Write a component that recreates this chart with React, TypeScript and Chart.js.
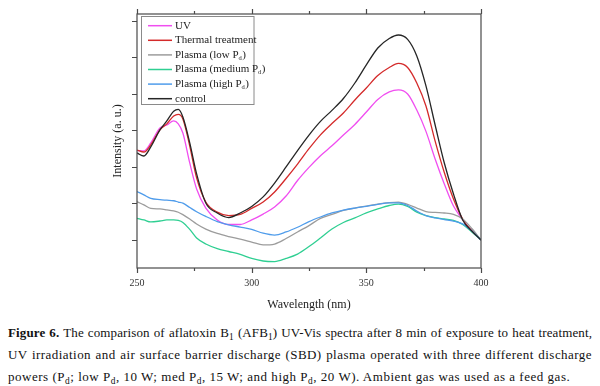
import React, { useEffect, useRef } from "react";
import { Chart, registerables } from "chart.js";

Chart.register(...registerables);

// Wavelength grid (nm)
const wavelengths = [250, 253, 256, 260, 263, 266, 268, 270, 273, 276, 280, 285, 290, 295, 300, 305, 310, 315, 320, 325, 330, 335, 340, 345, 350, 355, 360, 364, 368, 372, 376, 380, 384, 388, 392, 396, 400];

// Intensities (a. u.)
const uv = [0.690, 0.688, 0.732, 0.814, 0.830, 0.852, 0.836, 0.786, 0.622, 0.479, 0.375, 0.310, 0.285, 0.285, 0.310, 0.342, 0.381, 0.441, 0.526, 0.598, 0.662, 0.716, 0.775, 0.833, 0.901, 0.970, 1.011, 1.022, 1.000, 0.912, 0.795, 0.644, 0.507, 0.386, 0.312, 0.249, 0.200];
const thermal = [0.693, 0.682, 0.721, 0.803, 0.836, 0.879, 0.888, 0.863, 0.715, 0.540, 0.408, 0.353, 0.334, 0.340, 0.373, 0.408, 0.463, 0.537, 0.616, 0.700, 0.776, 0.838, 0.896, 0.967, 1.033, 1.101, 1.145, 1.167, 1.145, 1.060, 0.934, 0.742, 0.570, 0.425, 0.315, 0.249, 0.200];
const plasmaLow = [0.410, 0.392, 0.373, 0.370, 0.365, 0.359, 0.352, 0.339, 0.315, 0.288, 0.260, 0.236, 0.219, 0.205, 0.189, 0.173, 0.178, 0.208, 0.244, 0.279, 0.318, 0.340, 0.362, 0.375, 0.386, 0.397, 0.405, 0.408, 0.395, 0.375, 0.356, 0.351, 0.348, 0.340, 0.315, 0.263, 0.200];
const plasmaMedium = [0.319, 0.310, 0.299, 0.304, 0.310, 0.310, 0.307, 0.296, 0.258, 0.211, 0.178, 0.153, 0.137, 0.121, 0.099, 0.085, 0.082, 0.099, 0.123, 0.164, 0.211, 0.260, 0.296, 0.321, 0.348, 0.370, 0.389, 0.397, 0.384, 0.353, 0.334, 0.323, 0.315, 0.308, 0.285, 0.244, 0.200];
const plasmaHigh = [0.465, 0.447, 0.428, 0.421, 0.418, 0.415, 0.408, 0.402, 0.378, 0.355, 0.329, 0.301, 0.283, 0.271, 0.258, 0.237, 0.227, 0.244, 0.270, 0.301, 0.326, 0.348, 0.364, 0.375, 0.384, 0.395, 0.403, 0.403, 0.389, 0.359, 0.334, 0.321, 0.312, 0.304, 0.288, 0.249, 0.200];
const control = [0.677, 0.660, 0.710, 0.803, 0.852, 0.905, 0.915, 0.874, 0.732, 0.562, 0.403, 0.348, 0.323, 0.348, 0.384, 0.436, 0.512, 0.600, 0.690, 0.775, 0.850, 0.910, 0.975, 1.060, 1.159, 1.252, 1.304, 1.323, 1.299, 1.208, 1.044, 0.830, 0.622, 0.452, 0.310, 0.249, 0.200];

const seriesLabels = ["UV", "Thermal treatment", "Plasma (low P_d)", "Plasma (medium P_d)", "Plasma (high P_d)", "control"];
const seriesColors = ["#f04ef0", "#d42a2a", "#9c9c9c", "#2fcf92", "#4f9ceb", "#262626"];
const xTickValues = [250, 300, 350, 400];
const xMinorTickValues = [275, 325, 375];
const yTickValues = [0.2, 0.4, 0.6, 0.8, 1.0, 1.2, 1.4];

const FONT = "'Liberation Serif', 'Times New Roman', serif";

const framePlugin = {
  id: "frameTicks",
  afterDraw(chart: any) {
    const { ctx, chartArea } = chart;
    const { left, right, top, bottom } = chartArea;
    const xs = chart.scales.x;
    const ys = chart.scales.y;
    ctx.save();
    ctx.strokeStyle = "#4a4a4a";
    ctx.lineWidth = 1.2;
    ctx.strokeRect(left, top, right - left, bottom - top);
    ctx.beginPath();
    const drawX = (v: number, len: number) => {
      const px = Math.round(xs.getPixelForValue(v)) + 0.5;
      ctx.moveTo(px, bottom);
      ctx.lineTo(px, bottom + len);
      ctx.moveTo(px, top);
      ctx.lineTo(px, top - len);
    };
    xTickValues.forEach((v) => drawX(v, 5));
    xMinorTickValues.forEach((v) => drawX(v, 3));
    yTickValues.forEach((v) => {
      const py = Math.round(ys.getPixelForValue(v)) + 0.5;
      ctx.moveTo(left, py);
      ctx.lineTo(left - 5, py);
    });
    ctx.stroke();

    // legend
    const bx = 141.5, by = 16.5, bw = 112.5, bh = 88;
    ctx.fillStyle = "#ffffff";
    ctx.fillRect(bx, by, bw, bh);
    ctx.strokeStyle = "#8a8a8a";
    ctx.lineWidth = 1;
    ctx.strokeRect(bx, by, bw, bh);
    ctx.textBaseline = "middle";
    seriesLabels.forEach((lab, i) => {
      const y = 25.7 + i * 14.6;
      ctx.strokeStyle = seriesColors[i];
      ctx.lineWidth = 1.5;
      ctx.beginPath();
      ctx.moveTo(148, y);
      ctx.lineTo(172, y);
      ctx.stroke();
      ctx.fillStyle = "#222";
      let x = 175;
      const parts = lab.split("_");
      ctx.font = `11px ${FONT}`;
      ctx.fillText(parts[0], x, y);
      x += ctx.measureText(parts[0]).width;
      if (parts.length > 1) {
        const sub = parts[1].charAt(0);
        ctx.font = `6.5px ${FONT}`;
        ctx.fillText(sub, x, y + 3);
        x += ctx.measureText(sub).width + 0.5;
        ctx.font = `11px ${FONT}`;
        ctx.fillText(parts[1].slice(1), x, y);
      }
    });
    ctx.restore();
  },
};

function ChartBox() {
  const ref = useRef<HTMLCanvasElement>(null);
  useEffect(() => {
    if (!ref.current) return;
    const makeData = (vals: number[]) => wavelengths.map((w, i) => ({ x: w, y: vals[i] }));
    const all = [uv, thermal, plasmaLow, plasmaMedium, plasmaHigh, control];
    const chart = new Chart(ref.current, {
      type: "line",
      data: {
        datasets: all.map((vals, i) => ({
          label: seriesLabels[i],
          data: makeData(vals),
          borderColor: seriesColors[i],
          backgroundColor: seriesColors[i],
          borderWidth: 1.3,
          pointRadius: 0,
          cubicInterpolationMode: "monotone" as const,
          fill: false,
          order: 6 - i,
        })),
      },
      options: {
        animation: false,
        responsive: false,
        maintainAspectRatio: false,
        layout: { padding: { left: 0, top: 14, right: 119, bottom: 0 } },
        plugins: { legend: { display: false }, tooltip: { enabled: false } },
        scales: {
          x: {
            type: "linear",
            min: 250,
            max: 400,
            grid: { display: false, drawTicks: false },
            border: { display: false },
            afterBuildTicks: (axis: any) => {
              axis.ticks = xTickValues.map((v) => ({ value: v }));
            },
            ticks: { color: "#333", font: { family: FONT, size: 10 }, padding: 9, maxRotation: 0 },
            title: {
              display: true,
              text: "Wavelength (nm)",
              color: "#222",
              font: { family: FONT, size: 12 },
              padding: { top: 0, bottom: 8 },
            },
            afterFit: (s: any) => {
              s.height = 52;
            },
          },
          y: {
            type: "linear",
            min: 0.0466,
            max: 1.438,
            grid: { display: false, drawTicks: false },
            border: { display: false },
            afterBuildTicks: (axis: any) => {
              axis.ticks = yTickValues.map((v) => ({ value: v }));
            },
            ticks: { display: false },
            title: {
              display: true,
              text: "Intensity (a. u.)",
              color: "#222",
              font: { family: FONT, size: 12 },
              padding: { top: 111, bottom: 0 },
            },
            afterFit: (s: any) => {
              s.width = 137;
            },
          },
        },
      },
      plugins: [framePlugin],
    });
    return () => chart.destroy();
  }, []);
  return <canvas ref={ref} width={600} height={320} style={{ display: "block", width: 600, height: 320 }} />;
}

const Sub = ({ children }: { children: React.ReactNode }) => (
  <span style={{ fontSize: "0.72em", verticalAlign: "-0.3em", lineHeight: 0 }}>{children}</span>
);

export default function App() {
  const justified: React.CSSProperties = { textAlign: "justify", textAlignLast: "justify", whiteSpace: "nowrap" };
  return (
    <div style={{ position: "absolute", left: 0, top: 0, width: 600, height: 386, background: "#fff", overflow: "hidden" }}>
      <ChartBox />
      <div
        style={{
          position: "absolute",
          left: 8,
          top: 322,
          width: 584,
          fontFamily: FONT,
          fontSize: 13,
          lineHeight: "22px",
          color: "#111",
        }}
      >
        <div style={{ ...justified, letterSpacing: "0.12px" }}>
          <b>Figure 6.</b> The comparison of aflatoxin B<Sub>1</Sub> (AFB<Sub>1</Sub>) UV-Vis spectra after 8 min of exposure to heat treatment,
        </div>
        <div style={{ ...justified, letterSpacing: "0.45px" }}>
          UV irradiation and air surface barrier discharge (SBD) plasma operated with three different discharge
        </div>
        <div style={{ whiteSpace: "nowrap", letterSpacing: "0.52px" }}>
          powers (P<Sub>d</Sub>; low P<Sub>d</Sub>, 10 W; med P<Sub>d</Sub>, 15 W; and high P<Sub>d</Sub>, 20 W). Ambient gas was used as a feed gas.
        </div>
      </div>
    </div>
  );
}
